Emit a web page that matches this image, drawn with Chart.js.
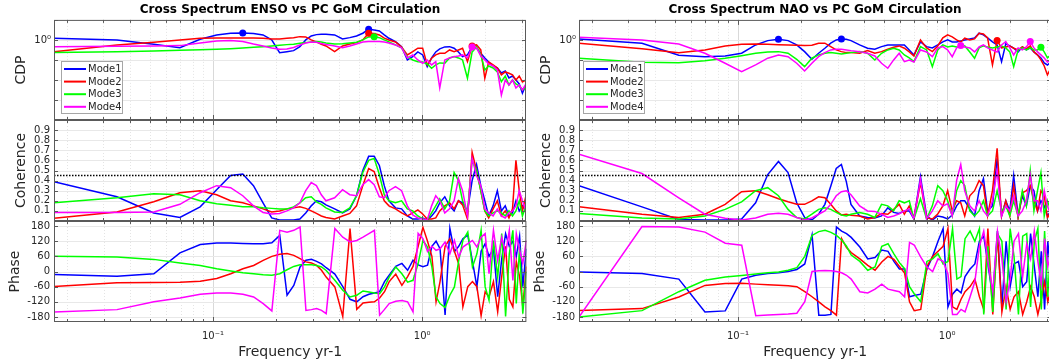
<!DOCTYPE html>
<html>
<head>
<meta charset="utf-8">
<script src="https://cdn.jsdelivr.net/npm/chart.js@4.4.1/dist/chart.umd.min.js"></script>
<style>
html,body{margin:0;padding:0;background:#fff;width:1049px;height:364px;overflow:hidden;position:relative}
</style>
</head>
<body>
<script>
// ---------------- data ----------------
const frequency = [0.0174, 0.0348, 0.0522, 0.0696, 0.0870, 0.1043, 0.1217, 0.1391, 0.1565, 0.1739, 0.1913, 0.2087, 0.2261, 0.2435, 0.2609, 0.2783, 0.2957, 0.3130, 0.3304, 0.3478, 0.3826, 0.4174, 0.4522, 0.4870, 0.5217, 0.5565, 0.5913, 0.6261, 0.6609, 0.6957, 0.7478, 0.8000, 0.8522, 0.9043, 0.9565, 1.0087, 1.0609, 1.1130, 1.1652, 1.2174, 1.2870, 1.3565, 1.4261, 1.4957, 1.5652, 1.6522, 1.7391, 1.8261, 1.9130, 2.0000, 2.0870, 2.1913, 2.2957, 2.4000, 2.5043, 2.6087, 2.7130, 2.8174, 2.9217, 3.0261, 3.1478];

const modeNames = ['Mode1', 'Mode2', 'Mode3', 'Mode4'];
const ensoTitle = 'Cross Spectrum ENSO vs PC GoM Circulation';
const naoTitle = 'Cross Spectrum NAO vs PC GoM Circulation';
const coherenceThreshold = 0.45;

// ENSO cross spectral density
const ensoCdpMode1 = [1.22, 1, 0.610, 0.412, 1.08, 1.78, 2.16, 2.24, 2.07, 1.78, 1, 0.232, 0.260, 0.292, 0.462, 1, 1.58, 1.84, 1.93, 1.93, 1.78, 1.12, 1.30, 1.58, 2.16, 3.43, 3.16, 2.82, 1.78, 1.21, 0.822, 0.462, 0.1, 0.146, 0.251, 0.178, 0.0462, 0.126, 0.251, 0.355, 0.447, 0.462, 0.385, 0.251, 0.146, 0.178, 0.447, 0.398, 0.216, 0.126, 0.0794, 0.0501, 0.0398, 0.0224, 0.0282, 0.0126, 0.0158, 0.01, 0.00631, 0.00216, 0.00562];
const ensoCdpMode2 = [0.260, 0.562, 0.767, 1, 1.22, 1.26, 1.26, 1.26, 1.26, 1.22, 1.12, 1.12, 1.22, 1.30, 1.46, 1.41, 1, 0.794, 0.610, 0.501, 0.260, 0.501, 0.631, 0.733, 1, 2.16, 2.11, 1.78, 1.22, 1, 0.794, 0.447, 0.178, 0.260, 0.385, 0.385, 0.0562, 0.122, 0.178, 0.216, 0.216, 0.316, 0.260, 0.316, 0.385, 0.0822, 0.501, 0.562, 0.316, 0.0122, 0.0794, 0.0562, 0.0398, 0.0178, 0.0251, 0.0216, 0.0178, 0.01, 0.0158, 0.00794, 0.01];
const ensoCdpMode3 = [0.232, 0.260, 0.282, 0.305, 0.327, 0.343, 0.367, 0.398, 0.432, 0.462, 0.501, 0.543, 0.582, 0.610, 0.684, 0.733, 0.794, 0.822, 0.794, 0.708, 0.631, 0.650, 0.708, 0.767, 1, 1.41, 1.46, 1.30, 1, 0.794, 0.562, 0.398, 0.141, 0.1, 0.0822, 0.0794, 0.0631, 0.0385, 0.0562, 0.0708, 0.0684, 0.126, 0.146, 0.126, 0.1, 0.0122, 0.251, 0.447, 0.178, 0.0316, 0.0501, 0.0398, 0.0251, 0.00822, 0.0158, 0.00562, 0.01, 0.00631, 0.00501, 0.00316, 0.00398];
const ensoCdpMode4 = [0.462, 0.484, 0.501, 0.519, 0.708, 0.891, 0.923, 0.841, 0.631, 0.501, 0.398, 0.343, 0.355, 0.422, 0.562, 0.708, 0.794, 0.767, 0.668, 0.596, 0.501, 0.412, 0.501, 0.631, 0.794, 0.822, 0.822, 0.822, 0.794, 0.708, 0.562, 0.398, 0.126, 0.178, 0.1, 0.0684, 0.1, 0.0562, 0.0822, 0.00398, 0.1, 0.126, 0.146, 0.158, 0.178, 0.126, 0.447, 0.398, 0.158, 0.1, 0.0631, 0.0501, 0.0316, 0.00178, 0.01, 0.00562, 0.01, 0.00398, 0.00562, 0.00316, 0.00631];

// ENSO coherence
const ensoCohMode1 = [0.39, 0.24, 0.08, 0.035, 0.14, 0.31, 0.45, 0.465, 0.35, 0.18, 0.03, 0.01, 0.01, 0.01, 0.02, 0.08, 0.15, 0.2, 0.19, 0.16, 0.12, 0.08, 0.12, 0.25, 0.5, 0.64, 0.64, 0.55, 0.35, 0.2, 0.13, 0.12, 0.05, 0.02, 0.02, 0.03, 0.01, 0.05, 0.1, 0.18, 0.24, 0.15, 0.1, 0.2, 0.18, 0.1, 0.4, 0.56, 0.35, 0.2, 0.05, 0.15, 0.3, 0.1, 0.15, 0.05, 0.08, 0.2, 0.1, 0.15, 0.1];
const ensoCohMode2 = [0.028, 0.09, 0.19, 0.28, 0.3, 0.26, 0.2, 0.18, 0.15, 0.12, 0.09, 0.1, 0.12, 0.13, 0.14, 0.125, 0.1, 0.075, 0.05, 0.035, 0.02, 0.05, 0.075, 0.15, 0.35, 0.52, 0.49, 0.33, 0.2, 0.15, 0.12, 0.08, 0.05, 0.08, 0.11, 0.07, 0.02, 0.02, 0.03, 0.1, 0.15, 0.18, 0.12, 0.2, 0.16, 0.02, 0.68, 0.5, 0.3, 0.1, 0.03, 0.12, 0.2, 0.05, 0.1, 0.03, 0.12, 0.6, 0.3, 0.1, 0.25];
const ensoCohMode3 = [0.18, 0.23, 0.27, 0.26, 0.2, 0.17, 0.155, 0.14, 0.14, 0.13, 0.125, 0.12, 0.12, 0.14, 0.18, 0.23, 0.24, 0.19, 0.165, 0.13, 0.09, 0.085, 0.13, 0.25, 0.48, 0.6, 0.62, 0.46, 0.26, 0.2, 0.18, 0.2, 0.12, 0.1, 0.05, 0.02, 0.01, 0.08, 0.15, 0.22, 0.12, 0.2, 0.48, 0.4, 0.2, 0.08, 0.6, 0.5, 0.3, 0.1, 0.05, 0.08, 0.1, 0.08, 0.05, 0.1, 0.05, 0.1, 0.2, 0.05, 0.15];
const ensoCohMode4 = [0.085, 0.085, 0.09, 0.165, 0.28, 0.35, 0.33, 0.25, 0.15, 0.085, 0.07, 0.075, 0.1, 0.13, 0.18, 0.3, 0.38, 0.35, 0.26, 0.2, 0.23, 0.31, 0.26, 0.25, 0.36, 0.41, 0.36, 0.24, 0.23, 0.3, 0.34, 0.3, 0.15, 0.06, 0.03, 0.02, 0.01, 0.15, 0.25, 0.2, 0.08, 0.12, 0.2, 0.42, 0.3, 0.05, 0.62, 0.45, 0.35, 0.12, 0.08, 0.05, 0.12, 0.05, 0.03, 0.08, 0.1, 0.15, 0.3, 0.2, 0.1];

// ENSO phase (degrees)
const ensoPhaseMode1 = [-12, -19, -9, 74, 107, 113, 113, 111, 110, 110, 114, 143, -94, -55, 18, 45, 48, 40, 30, 15, -10, -60, -110, -120, -100, -90, -85, -80, -40, -15, 20, 32, 5, 45, 26, 19, 25, 100, 120, 90, -172, 171, 79, 100, 130, 144, 40, -60, 80, 110, 60, 90, -100, 50, 150, 100, 120, 60, 140, -60, 90];
const ensoPhaseMode2 = [-59, -45, -44, -43, -39, -28, -9, 11, 24, 44, 60, 68, 71, 64, 51, 38, 34, 24, 5, -22, -61, -178, 170, -150, -125, -122, -120, -105, -80, -40, -10, -55, -20, 20, 100, 175, 120, 60, -120, -40, 100, 130, 80, 30, -140, -60, -40, -60, -175, -80, -100, -40, -160, -20, 100, -110, -140, 40, -20, -140, 20];
const ensoPhaseMode3 = [60, 57, 48, 34, 24, 11, 2, -5, -9, -13, -15, -9, 7, 20, 27, 27, 27, 24, 18, 4, -35, -74, -101, -94, -77, -81, -85, -88, -61, -22, 18, -9, -42, -35, 31, 123, 97, 18, -101, -127, -143, -94, -61, 44, 123, 156, 18, 70, 163, -61, -114, 123, -22, 150, -178, 70, 163, -127, 97, -167, 0];
const ensoPhaseMode4 = [-160, -151, -120, -105, -90, -85, -85, -90, -101, -127, -156, 163, 156, 163, 176, -154, -151, -147, -154, -167, 170, 136, 117, 123, 136, 150, 163, -173, -150, -127, -118, -115, -120, -160, 151, 130, 79, 100, 84, 90, 117, 70, 123, 57, 97, 110, 123, 97, 136, 150, -9, 163, 44, 136, 70, 163, -35, 150, 84, 31, 123];

// ENSO significant peaks (on CDP)
const ensoPeakFreq = [0.1391, 0.5565, 0.5565, 0.5913, 1.7391, 1.7391];
const ensoPeakCdp = [2.24, 3.43, 2.16, 1.46, 0.501, 0.447];
const ensoPeakMode = [1, 1, 2, 3, 2, 4];

// NAO cross spectral density
const naoCdpMode1 = [1.12, 0.684, 0.172, 0.146, 0.158, 0.216, 0.562, 0.923, 1.08, 0.923, 0.562, 0.260, 0.108, 0.216, 0.385, 0.684, 1, 1.12, 1.08, 0.923, 0.562, 0.385, 0.343, 0.462, 0.562, 0.562, 0.562, 0.562, 0.316, 0.178, 0.794, 0.462, 0.398, 0.562, 0.794, 1, 0.794, 0.794, 0.891, 1, 1.12, 1.26, 2.16, 1.78, 1.26, 0.794, 0.562, 0.0822, 0.631, 0.501, 0.385, 0.251, 0.447, 0.316, 0.398, 0.251, 0.178, 0.126, 0.0708, 0.0562, 0.0794];
const naoCdpMode2 = [0.684, 0.367, 0.232, 0.316, 0.501, 0.610, 0.631, 0.610, 0.582, 0.562, 0.543, 0.519, 0.543, 0.684, 0.684, 0.462, 0.316, 0.260, 0.232, 0.232, 0.216, 0.292, 0.216, 0.260, 0.343, 0.432, 0.501, 0.385, 0.251, 0.158, 1, 0.398, 0.260, 0.501, 1.26, 1.78, 1.41, 1, 0.794, 1.22, 1, 1.12, 2.16, 2.0, 1.26, 0.0562, 0.923, 0.398, 0.447, 0.501, 0.385, 0.316, 0.447, 0.355, 0.501, 0.251, 0.178, 0.1, 0.0501, 0.0178, 0.0398];
const naoCdpMode3 = [0.122, 0.0767, 0.0733, 0.0923, 0.122, 0.164, 0.216, 0.251, 0.260, 0.216, 0.108, 0.0462, 0.122, 0.178, 0.216, 0.232, 0.216, 0.200, 0.216, 0.232, 0.260, 0.216, 0.1, 0.216, 0.316, 0.385, 0.316, 0.178, 0.126, 0.0822, 0.462, 0.316, 0.0462, 0.316, 0.562, 0.447, 0.501, 0.447, 0.462, 0.501, 0.251, 0.122, 0.398, 0.501, 0.447, 0.398, 0.447, 0.501, 0.398, 0.251, 0.0462, 0.316, 0.398, 0.316, 0.398, 0.316, 0.316, 0.432, 0.251, 0.126, 0.178];
const naoCdpMode4 = [1.36, 1, 0.631, 0.216, 0.0684, 0.0260, 0.0562, 0.122, 0.178, 0.146, 0.0684, 0.0282, 0.0684, 0.146, 0.232, 0.316, 0.343, 0.343, 0.316, 0.292, 0.260, 0.216, 0.158, 0.0684, 0.0385, 0.1, 0.216, 0.0822, 0.1, 0.0794, 0.316, 0.251, 0.146, 0.398, 0.462, 0.316, 0.146, 0.398, 0.519, 0.447, 0.398, 0.251, 0.447, 0.562, 0.398, 0.316, 0.251, 0.562, 0.822, 0.398, 0.178, 0.398, 0.316, 0.447, 0.822, 0.398, 0.251, 0.178, 0.126, 0.0794, 0.1];

// NAO coherence
const naoCohMode1 = [0.35, 0.14, 0.015, 0.01, 0.01, 0.02, 0.18, 0.46, 0.59, 0.48, 0.18, 0.035, 0.01, 0.067, 0.165, 0.345, 0.52, 0.56, 0.39, 0.165, 0.05, 0.035, 0.03, 0.05, 0.13, 0.085, 0.075, 0.1, 0.1, 0.02, 0.44, 0.05, 0.01, 0.05, 0.04, 0.02, 0.06, 0.15, 0.2, 0.2, 0.12, 0.05, 0.3, 0.42, 0.1, 0.15, 0.62, 0.05, 0.2, 0.1, 0.45, 0.05, 0.25, 0.15, 0.35, 0.3, 0.1, 0.2, 0.15, 0.05, 0.1];
const naoCohMode2 = [0.14, 0.067, 0.035, 0.067, 0.165, 0.29, 0.3, 0.26, 0.22, 0.19, 0.165, 0.165, 0.2, 0.24, 0.23, 0.165, 0.1, 0.06, 0.067, 0.058, 0.05, 0.02, 0.035, 0.075, 0.067, 0.115, 0.165, 0.067, 0.15, 0.03, 0.38, 0.03, 0.02, 0.07, 0.15, 0.3, 0.1, 0.2, 0.18, 0.05, 0.25, 0.3, 0.4, 0.35, 0.05, 0.3, 0.72, 0.05, 0.2, 0.05, 0.35, 0.03, 0.28, 0.3, 0.35, 0.2, 0.1, 0.3, 0.25, 0.03, 0.1];
const naoCohMode3 = [0.074, 0.03, 0.02, 0.05, 0.115, 0.19, 0.3, 0.33, 0.25, 0.115, 0.035, 0.02, 0.067, 0.115, 0.13, 0.115, 0.085, 0.06, 0.05, 0.067, 0.085, 0.067, 0.035, 0.165, 0.15, 0.1, 0.2, 0.18, 0.2, 0.02, 0.22, 0.02, 0.15, 0.35, 0.3, 0.2, 0.05, 0.3, 0.4, 0.35, 0.1, 0.05, 0.1, 0.2, 0.05, 0.1, 0.3, 0.1, 0.15, 0.05, 0.2, 0.05, 0.3, 0.15, 0.5, 0.1, 0.3, 0.48, 0.05, 0.2, 0.1];
const naoCohMode4 = [0.66, 0.47, 0.23, 0.067, 0.028, 0.01, 0.03, 0.067, 0.077, 0.067, 0.035, 0.01, 0.03, 0.067, 0.1, 0.165, 0.25, 0.29, 0.3, 0.26, 0.15, 0.1, 0.095, 0.067, 0.035, 0.05, 0.07, 0.1, 0.12, 0.02, 0.41, 0.02, 0.1, 0.2, 0.15, 0.17, 0.05, 0.4, 0.56, 0.3, 0.15, 0.1, 0.2, 0.1, 0.05, 0.2, 0.5, 0.05, 0.15, 0.1, 0.25, 0.05, 0.1, 0.2, 0.46, 0.2, 0.2, 0.1, 0.3, 0.15, 0.05];

// NAO phase (degrees)
const naoPhaseMode1 = [-2, -8, -30, -160, -156, -30, -15, -8, -5, 0, 8, 30, 145, -173, -173, -170, 176, 160, 150, 135, 97, 50, 55, 85, 80, 40, 10, 10, -100, -95, -90, 10, 60, 120, 170, -140, -90, -70, -85, -20, 10, 30, 120, 140, 30, -100, 160, -140, 120, -60, 30, 40, -60, -40, 150, 20, -100, 80, -150, 120, -40];
const naoPhaseMode2 = [-154, -147, -101, -55, -48, -47, -50, -52, -54, -56, -60, -80, -100, -120, -140, -155, -173, 130, 95, 75, 50, 24, 5, 38, 60, 48, 20, -6, -120, -155, -150, 20, 60, 80, 100, 170, -140, -150, -110, -80, -60, -30, -100, -150, 170, -170, 150, -160, -60, -150, -100, -80, -170, -120, -60, -100, -170, -110, -40, -120, -60];
const naoPhaseMode3 = [-180, -155, -80, -35, -22, -16, -10, -5, -2, 5, 15, 60, 143, 158, 163, 155, 143, 125, 100, 65, 40, 5, 18, 100, 110, 70, 35, 11, -60, -88, -120, 40, 50, 70, 30, 40, 170, -30, -20, 130, 160, 120, 170, -170, 100, -160, 150, 120, -150, 170, 60, -170, 140, 150, -140, 120, 170, -150, 160, -100, 140];
const naoPhaseMode4 = [-180, 178, 176, 156, 112, 104, -175, -172, -170, -168, -165, -120, 0, 3, 4, 3, 0, -5, -15, -30, -80, -85, -70, -50, -70, -75, -80, -100, 115, 105, 57, 18, 0, 50, 40, -10, -170, -170, -150, -160, -100, -40, 100, 160, 40, -80, 160, 50, -120, -30, 120, 150, -20, 110, 50, 160, 40, -50, 130, 20, 80];

// NAO significant peaks (on CDP)
const naoPeakFreq = [0.1565, 0.3130, 1.1652, 1.7391, 2.5043, 2.8174];
const naoPeakCdp = [1.08, 1.12, 0.519, 0.923, 0.822, 0.432];
const naoPeakMode = [1, 1, 4, 2, 4, 3];

// axis ticks
const xGridValues = [0.02, 0.03, 0.04, 0.05, 0.06, 0.07, 0.08, 0.09, 0.1, 0.2, 0.3, 0.4, 0.5, 0.6, 0.7, 0.8, 0.9, 1, 2, 3];
const xTickValues = [0.1, 1];
const xTickText = ['10\u207B\u00B9', '10\u2070'];
const cdpTickValues = [0.0001, 0.001, 0.01, 0.1, 1, 10];
const cdpTickText = ['', '', '', '', '10\u2070', ''];
const cohTickValues = [0.1, 0.2, 0.3, 0.4, 0.5, 0.6, 0.7, 0.8, 0.9];
const cohTickText = ['0.1', '0.2', '0.3', '0.4', '0.5', '0.6', '0.7', '0.8', '0.9'];
const phaseTickValues = [-180, -120, -60, 0, 60, 120, 180];
const phaseTickText = ['-180', '-120', '-60', '0', '60', '120', '180'];

// ---------------- styling ----------------
const FONT = "'DejaVu Sans', sans-serif";
const TXT = '#262626';
const modeColors = ['#0000ff', '#ff0000', '#00ff00', '#ff00ff'];
Chart.defaults.font.family = FONT;

const sets = {
  enso: {
    title: ensoTitle,
    cdp: [ensoCdpMode1, ensoCdpMode2, ensoCdpMode3, ensoCdpMode4],
    coh: [ensoCohMode1, ensoCohMode2, ensoCohMode3, ensoCohMode4],
    phase: [ensoPhaseMode1, ensoPhaseMode2, ensoPhaseMode3, ensoPhaseMode4],
    peakFreq: ensoPeakFreq, peakCdp: ensoPeakCdp, peakMode: ensoPeakMode,
    legendDx: 6.5
  },
  nao: {
    title: naoTitle,
    cdp: [naoCdpMode1, naoCdpMode2, naoCdpMode3, naoCdpMode4],
    coh: [naoCohMode1, naoCohMode2, naoCohMode3, naoCohMode4],
    phase: [naoPhaseMode1, naoPhaseMode2, naoPhaseMode3, naoPhaseMode4],
    peakFreq: naoPeakFreq, peakCdp: naoPeakCdp, peakMode: naoPeakMode,
    legendDx: 4
  }
};

const yDefs = {
  cdp:   { type: 'logarithmic', vals: cdpTickValues, text: cdpTickText, min: 0.0001, max: 10, title: 'CDP', tpad: 13.3, pad: 3 },
  coh:   { type: 'linear', vals: cohTickValues, text: cohTickText, min: 0, max: 1, title: 'Coherence', tpad: 13.3, pad: 4 },
  phase: { type: 'linear', vals: phaseTickValues, text: phaseTickText, min: -200, max: 200, title: 'Phase', tpad: 6.6, pad: 4 }
};

// MATLAB-like axes: grid, inward ticks and box
const matlabAxes = {
  id: 'matlabAxes',
  beforeDatasetsDraw(chart) {
    const { ctx, chartArea: a, scales: { x: xs, y: ys } } = chart;
    ctx.save();
    ctx.lineWidth = 1;
    xs.ticks.forEach(t => {
      const px = Math.round(xs.getPixelForValue(t.value)) + 0.5;
      if (px <= a.left + 1 || px >= a.right - 1) return;
      const major = xTickValues.includes(t.value);
      ctx.strokeStyle = major ? '#d9d9d9' : '#e4e4e4';
      ctx.setLineDash(major ? [] : [1, 2]);
      ctx.beginPath(); ctx.moveTo(px, a.top); ctx.lineTo(px, a.bottom); ctx.stroke();
    });
    ctx.setLineDash([]);
    ctx.strokeStyle = '#e8e8e8';
    ys.ticks.forEach(t => {
      const py = Math.round(ys.getPixelForValue(t.value)) + 0.5;
      if (py <= a.top + 1 || py >= a.bottom - 1) return;
      ctx.beginPath(); ctx.moveTo(a.left, py); ctx.lineTo(a.right, py); ctx.stroke();
    });
    ctx.restore();
  },
  afterDatasetsDraw(chart) {
    const { ctx, chartArea: a, scales: { x: xs, y: ys } } = chart;
    ctx.save();
    ctx.strokeStyle = '#5a5a5a';
    ctx.lineWidth = 1;
    ctx.beginPath();
    xs.ticks.forEach(t => {
      const px = Math.round(xs.getPixelForValue(t.value)) + 0.5;
      const len = xTickValues.includes(t.value) ? 5 : 3;
      ctx.moveTo(px, a.top); ctx.lineTo(px, a.top + len);
      ctx.moveTo(px, a.bottom); ctx.lineTo(px, a.bottom - len);
    });
    ys.ticks.forEach(t => {
      const py = Math.round(ys.getPixelForValue(t.value)) + 0.5;
      ctx.moveTo(a.left, py); ctx.lineTo(a.left + 4, py);
      ctx.moveTo(a.right, py); ctx.lineTo(a.right - 4, py);
    });
    ctx.stroke();
    ctx.strokeRect(a.left + 0.5, a.top + 0.5, a.width - 1, a.height - 1);
    ctx.restore();
  }
};

// boxed legend inside the CDP panel
const boxLegend = {
  id: 'boxLegend',
  afterDraw(chart, args, opts) {
    if (!opts || !opts.show) return;
    const { ctx, chartArea: a } = chart;
    const x0 = Math.round(a.left + opts.dx) + 0.5, y0 = Math.round(a.top + 41.5) + 0.5;
    const w = 61, rowH = 12.6, h = 52;
    ctx.save();
    ctx.fillStyle = '#ffffff';
    ctx.fillRect(x0, y0, w, h);
    ctx.strokeStyle = '#a6a6a6'; ctx.lineWidth = 1;
    ctx.strokeRect(x0, y0, w, h);
    ctx.font = '10px ' + FONT;
    ctx.textBaseline = 'middle';
    modeNames.forEach((name, i) => {
      const cy = y0 + 7.5 + rowH * i;
      ctx.strokeStyle = modeColors[i]; ctx.lineWidth = 2;
      ctx.beginPath(); ctx.moveTo(x0 + 2.5, cy); ctx.lineTo(x0 + 24.5, cy); ctx.stroke();
      ctx.fillStyle = TXT;
      ctx.fillText(name, x0 + 26.5, cy + 0.5);
    });
    ctx.restore();
  }
};

function makeConfig(setKey, kind) {
  const s = sets[setKey];
  const yd = yDefs[kind];
  const isBottom = kind === 'phase';
  const datasets = s[kind].map((arr, m) => ({
    label: modeNames[m],
    data: frequency.map((f, i) => ({ x: f, y: arr[i] })),
    borderColor: modeColors[m],
    borderWidth: 1.5,
    pointRadius: 0,
    tension: 0,
    fill: false,
    order: 10 - m
  }));
  if (kind === 'cdp') {
    datasets.push({
      label: 'peaks',
      data: s.peakFreq.map((f, i) => ({ x: f, y: s.peakCdp[i] })),
      showLine: false,
      pointRadius: 3.5,
      pointBackgroundColor: s.peakMode.map(m => modeColors[m - 1]),
      pointBorderColor: s.peakMode.map(m => modeColors[m - 1]),
      pointBorderWidth: 0,
      order: 0
    });
  }
  if (kind === 'coh') {
    datasets.push({
      label: 'threshold',
      data: [{ x: frequency[0], y: coherenceThreshold }, { x: frequency[frequency.length - 1], y: coherenceThreshold }],
      borderColor: '#000000',
      borderWidth: 1.5,
      borderDash: [1.5, 1.5],
      pointRadius: 0,
      order: 0
    });
  }
  return {
    type: 'line',
    data: { datasets },
    plugins: [matlabAxes, boxLegend],
    options: {
      responsive: false,
      animation: false,
      devicePixelRatio: 1,
      events: [],
      layout: { padding: 0 },
      plugins: {
        legend: { display: false },
        tooltip: { enabled: false },
        title: kind === 'cdp' ? {
          display: true, text: s.title, color: '#000000', fullSize: false,
          font: { family: FONT, size: 12, weight: 'bold' },
          padding: { top: 4, bottom: 2.5 }
        } : { display: false },
        boxLegend: { show: kind === 'cdp', dx: s.legendDx }
      },
      scales: {
        x: {
          type: 'logarithmic',
          min: frequency[0],
          max: frequency[frequency.length - 1],
          afterBuildTicks: sc => { sc.ticks = xGridValues.map(v => ({ value: v })); },
          afterFit: sc => { sc.height = isBottom ? 41 : 0; },
          grid: { display: false, drawTicks: false },
          border: { display: false },
          ticks: {
            display: isBottom, autoSkip: false, maxRotation: 0, padding: 8,
            color: TXT, font: { family: FONT, size: 10 },
            callback: v => { const i = xTickValues.indexOf(v); return i >= 0 ? xTickText[i] : ''; }
          },
          title: {
            display: isBottom, text: 'Frequency yr-1', color: TXT,
            font: { family: FONT, size: 14 }, padding: { top: 0, bottom: 2 }
          }
        },
        y: {
          type: yd.type,
          min: yd.min,
          max: yd.max,
          afterBuildTicks: sc => { sc.ticks = yd.vals.map(v => ({ value: v })); },
          afterFit: sc => { sc.width = 54; },
          grid: { display: false, drawTicks: false },
          border: { display: false },
          ticks: {
            autoSkip: false, padding: yd.pad, color: TXT, font: { family: FONT, size: 10 },
            callback: v => { const i = yd.vals.indexOf(v); return i >= 0 ? yd.text[i] : ''; }
          },
          title: {
            display: true, text: yd.title, color: TXT,
            font: { family: FONT, size: 14 }, padding: { top: yd.tpad, bottom: 0 }
          }
        }
      }
    }
  };
}

function placeChart(rect, cfgFn) {
  const holder = document.createElement('div');
  holder.style.position = 'absolute';
  holder.style.left = '0px';
  holder.style.top = '0px';
  const canvas = document.createElement('canvas');
  holder.appendChild(canvas);
  document.body.appendChild(holder);
  let cw = rect.w + 120, ch = rect.h + 90, chart = null;
  for (let pass = 0; pass < 4; pass++) {
    if (chart) chart.destroy();
    canvas.width = cw; canvas.height = ch;
    canvas.style.width = cw + 'px'; canvas.style.height = ch + 'px';
    chart = new Chart(canvas, cfgFn());
    const a = chart.chartArea;
    const nw = Math.round(rect.w + a.left + (cw - a.right));
    const nh = Math.round(rect.h + a.top + (ch - a.bottom));
    if (nw === cw && nh === ch) break;
    cw = nw; ch = nh;
  }
  const a = chart.chartArea;
  holder.style.left = (rect.x - a.left) + 'px';
  holder.style.top = (rect.y - a.top) + 'px';
  return chart;
}

const columns = [{ key: 'enso', x: 54 }, { key: 'nao', x: 579 }];
const rows = [{ kind: 'cdp', y: 20, h: 100 }, { kind: 'coh', y: 120, h: 101 }, { kind: 'phase', y: 221, h: 101 }];
columns.forEach(col => {
  rows.forEach(row => {
    placeChart({ x: col.x, y: row.y, w: 472, h: row.h }, () => makeConfig(col.key, row.kind));
  });
});
</script>
</body>
</html>
